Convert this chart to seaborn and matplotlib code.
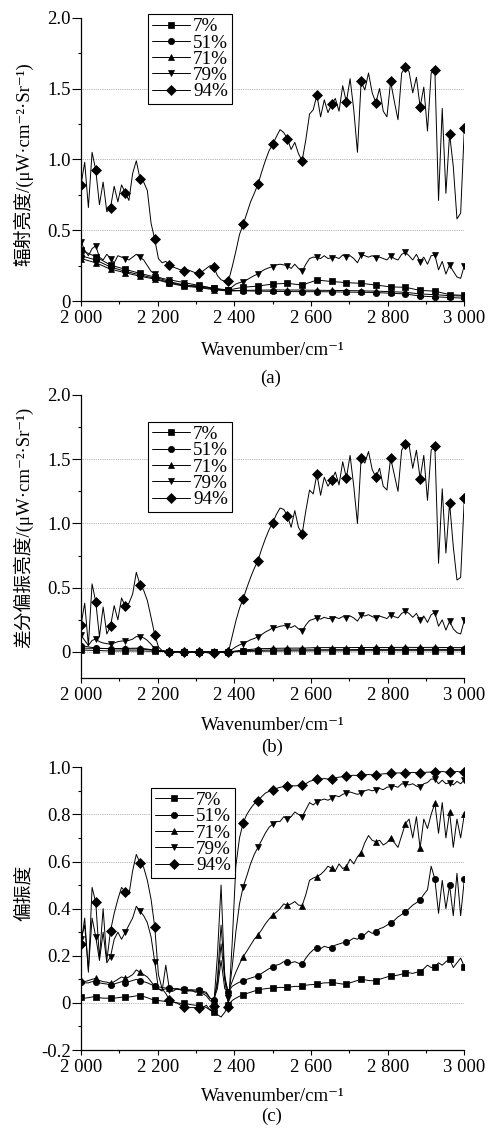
import numpy as np
import seaborn as sns
import matplotlib
matplotlib.use('Agg')
import matplotlib.pyplot as plt
from matplotlib.ticker import MultipleLocator, FixedLocator

# wavenumber grids: fine grid for noisy curves, marker grid for smooth ones
wn_fine = np.linspace(2000, 3000, 105)
wn_mark = np.linspace(2000, 3000, 27)

labels = ['7%', '51%', '71%', '79%', '94%']

# ---- (a) radiance ----
a7 = [0.36, 0.313, 0.254, 0.224, 0.195, 0.17, 0.137, 0.113, 0.106, 0.09, 0.078, 0.097, 0.106,
      0.12, 0.125, 0.113, 0.148, 0.138, 0.13, 0.125, 0.113, 0.10, 0.097, 0.075, 0.07, 0.045, 0.04]
a51 = [0.32, 0.29, 0.24, 0.21, 0.185, 0.16, 0.13, 0.11, 0.10, 0.085, 0.075, 0.072, 0.07,
       0.068, 0.067, 0.066, 0.066, 0.065, 0.063, 0.062, 0.06, 0.055, 0.05, 0.035, 0.03, 0.025, 0.02]
a71 = [0.30, 0.27, 0.225, 0.20, 0.175, 0.155, 0.125, 0.105, 0.095, 0.08, 0.07, 0.075, 0.077,
       0.078, 0.078, 0.077, 0.076, 0.075, 0.074, 0.072, 0.07, 0.066, 0.062, 0.05, 0.045, 0.038, 0.035]
a79 = [0.42, 0.36, 0.32, 0.37, 0.39, 0.31, 0.29, 0.33, 0.30, 0.27,
       0.32, 0.31, 0.30, 0.29, 0.31, 0.33, 0.31, 0.29, 0.25, 0.21,
       0.19, 0.17, 0.16, 0.155, 0.15, 0.145, 0.14, 0.135, 0.13, 0.125,
       0.12, 0.115, 0.11, 0.105, 0.10, 0.095, 0.09, 0.085, 0.08, 0.08,
       0.08, 0.10, 0.12, 0.13, 0.137, 0.15, 0.165, 0.18, 0.19, 0.21,
       0.225, 0.235, 0.243, 0.255, 0.26, 0.255, 0.25, 0.23, 0.26, 0.23,
       0.21, 0.26, 0.30, 0.31, 0.308, 0.30, 0.32, 0.30, 0.306, 0.31,
       0.30, 0.325, 0.308, 0.32, 0.30, 0.27, 0.325, 0.32, 0.31, 0.32,
       0.306, 0.31, 0.30, 0.29, 0.32, 0.30, 0.29, 0.33, 0.343, 0.32,
       0.29, 0.33, 0.278, 0.31, 0.26, 0.32, 0.325, 0.22, 0.28, 0.19,
       0.254, 0.21, 0.17, 0.16, 0.25]
a94 = [0.82, 0.98, 0.66, 1.05, 0.925, 0.68, 0.84, 0.63, 0.66, 0.81,
       0.70, 0.82, 0.765, 0.71, 0.90, 0.99, 0.865, 0.84, 0.78, 0.55,
       0.435, 0.30, 0.27, 0.28, 0.254, 0.24, 0.23, 0.22, 0.212, 0.22,
       0.21, 0.20, 0.20, 0.21, 0.23, 0.25, 0.242, 0.18, 0.15, 0.14,
       0.141, 0.24, 0.35, 0.47, 0.541, 0.62, 0.70, 0.76, 0.824, 0.91,
       0.99, 1.06, 1.106, 1.16, 1.21, 1.19, 1.144, 1.07, 1.12, 1.04,
       0.99, 1.14, 1.32, 1.35, 1.455, 1.30, 1.42, 1.33, 1.39, 1.43,
       1.34, 1.52, 1.405, 1.57, 1.35, 1.05, 1.55, 1.49, 1.61, 1.47,
       1.40, 1.50, 1.34, 1.30, 1.55, 1.41, 1.28, 1.61, 1.65, 1.62,
       1.47, 1.58, 1.37, 1.51, 1.20, 1.61, 1.63, 0.71, 1.36, 0.76,
       1.18, 0.95, 0.58, 0.62, 1.22]

# ---- (b) differential polarization radiance ----
b7 = [0.015, 0.012, 0.008, 0.008, 0.008, 0.005, 0.002, 0.0, 0.0, 0.0, 0.0, 0.004, 0.006,
      0.007, 0.008, 0.008, 0.009, 0.009, 0.009, 0.01, 0.01, 0.01, 0.01, 0.01, 0.01, 0.01, 0.01]
b51 = [0.05, 0.03, 0.025, 0.022, 0.024, 0.012, 0.003, 0.0, 0.0, 0.0, 0.0, 0.01, 0.013,
       0.015, 0.016, 0.016, 0.017, 0.018, 0.018, 0.019, 0.02, 0.02, 0.02, 0.02, 0.02, 0.02, 0.02]
b71 = [0.03, 0.028, 0.026, 0.028, 0.03, 0.015, 0.004, 0.0, 0.0, 0.0, 0.0, 0.015, 0.025,
       0.028, 0.03, 0.03, 0.034, 0.034, 0.034, 0.035, 0.035, 0.035, 0.036, 0.035, 0.036, 0.034, 0.034]
b79 = [0.13, 0.09, 0.05, 0.09, 0.10, 0.08, 0.07, 0.065, 0.06, 0.07,
       0.08, 0.085, 0.086, 0.09, 0.10, 0.12, 0.117, 0.11, 0.09, 0.06,
       0.026, 0.01, 0.005, 0.0, 0.0, 0.0, 0.0, 0.0, 0.0, 0.0,
       0.0, 0.0, 0.0, 0.0, 0.0, 0.0, 0.0, 0.0, 0.0, 0.0,
       0.0, 0.02, 0.04, 0.055, 0.065, 0.08, 0.095, 0.105, 0.117, 0.135,
       0.155, 0.17, 0.187, 0.19, 0.20, 0.205, 0.20, 0.19, 0.205, 0.18,
       0.164, 0.21, 0.245, 0.255, 0.265, 0.255, 0.27, 0.26, 0.26, 0.27,
       0.26, 0.275, 0.268, 0.28, 0.265, 0.24, 0.286, 0.28, 0.29, 0.275,
       0.265, 0.28, 0.27, 0.26, 0.29, 0.275, 0.265, 0.30, 0.317, 0.30,
       0.27, 0.30, 0.247, 0.28, 0.23, 0.29, 0.306, 0.20, 0.25, 0.17,
       0.239, 0.18, 0.15, 0.14, 0.247]
b94 = [0.21, 0.38, 0.05, 0.53, 0.39, 0.12, 0.35, 0.14, 0.20, 0.36,
       0.25, 0.42, 0.356, 0.38, 0.45, 0.62, 0.525, 0.48, 0.40, 0.27,
       0.135, 0.04, 0.01, 0.005, 0.0, 0.0, 0.0, 0.0, 0.0, 0.0,
       0.0, 0.0, 0.0, 0.0, -0.005, -0.01, -0.01, -0.005, 0.0, 0.0,
       0.0, 0.12, 0.24, 0.34, 0.415, 0.50, 0.58, 0.65, 0.71, 0.80,
       0.88, 0.95, 1.005, 1.07, 1.12, 1.11, 1.06, 0.97, 1.10, 0.97,
       0.92, 1.10, 1.26, 1.23, 1.385, 1.22, 1.36, 1.29, 1.34, 1.40,
       1.30, 1.48, 1.355, 1.53, 1.29, 1.00, 1.51, 1.47, 1.56, 1.42,
       1.36, 1.43, 1.29, 1.26, 1.51, 1.38, 1.25, 1.57, 1.62, 1.61,
       1.43, 1.57, 1.35, 1.53, 1.18, 1.57, 1.605, 0.69, 1.27, 0.77,
       1.16, 0.82, 0.56, 0.58, 1.20]

# ---- (c) degree of polarization ----
c7 = [0.024, 0.02, 0.022, 0.025, 0.026, 0.022, 0.02, 0.02, 0.019, 0.02,
      0.022, 0.024, 0.024, 0.025, 0.027, 0.03, 0.03, 0.027, 0.022, 0.016,
      0.012, 0.01, 0.008, 0.006, 0.005, 0.003, 0.0, -0.002, -0.002, -0.005,
      -0.008, -0.01, -0.01, -0.015, -0.02, -0.03, -0.04, -0.05, -0.06, -0.04,
      -0.01, 0.01, 0.02, 0.028, 0.034, 0.04, 0.045, 0.05, 0.055, 0.058,
      0.06, 0.062, 0.062, 0.064, 0.066, 0.065, 0.066, 0.068, 0.07, 0.07,
      0.072, 0.075, 0.077, 0.078, 0.08, 0.082, 0.085, 0.085, 0.087, 0.085,
      0.082, 0.08, 0.08, 0.085, 0.09, 0.095, 0.10, 0.098, 0.095, 0.094,
      0.094, 0.10, 0.105, 0.11, 0.114, 0.115, 0.118, 0.122, 0.125, 0.128,
      0.125, 0.13, 0.13, 0.145, 0.16, 0.15, 0.154, 0.17, 0.16, 0.175,
      0.186, 0.15, 0.17, 0.19, 0.154]
c51 = [0.09, 0.085, 0.085, 0.09, 0.09, 0.085, 0.082, 0.08, 0.076, 0.08,
       0.085, 0.09, 0.086, 0.09, 0.095, 0.10, 0.094, 0.09, 0.085, 0.078,
       0.072, 0.068, 0.065, 0.063, 0.062, 0.06, 0.06, 0.058, 0.058, 0.056,
       0.055, 0.055, 0.055, 0.05, 0.045, 0.02, 0.012, 0.06, 0.18, 0.06,
       0.048, 0.07, 0.08, 0.088, 0.094, 0.10, 0.105, 0.11, 0.114, 0.125,
       0.135, 0.145, 0.151, 0.16, 0.165, 0.175, 0.172, 0.17, 0.175, 0.168,
       0.165, 0.19, 0.21, 0.225, 0.232, 0.23, 0.24, 0.235, 0.234, 0.245,
       0.25, 0.255, 0.257, 0.265, 0.275, 0.27, 0.284, 0.29, 0.305, 0.295,
       0.302, 0.315, 0.32, 0.33, 0.338, 0.35, 0.365, 0.375, 0.387, 0.40,
       0.415, 0.425, 0.437, 0.46, 0.48, 0.58, 0.526, 0.38, 0.52, 0.40,
       0.50, 0.37, 0.55, 0.37, 0.524]
c71 = [0.097, 0.09, 0.095, 0.10, 0.104, 0.095, 0.09, 0.088, 0.083, 0.09,
       0.10, 0.11, 0.104, 0.11, 0.12, 0.14, 0.13, 0.12, 0.11, 0.09,
       0.07, 0.06, 0.055, 0.06, 0.062, 0.06, 0.058, 0.057, 0.055, 0.052,
       0.05, 0.05, 0.048, 0.045, 0.04, 0.02, 0.012, 0.08, 0.25, 0.10,
       0.048, 0.09, 0.13, 0.165, 0.196, 0.22, 0.245, 0.27, 0.288, 0.31,
       0.335, 0.355, 0.373, 0.385, 0.40, 0.42, 0.415, 0.42, 0.43, 0.415,
       0.413, 0.46, 0.52, 0.53, 0.536, 0.545, 0.56, 0.58, 0.571, 0.56,
       0.59, 0.57, 0.578, 0.61, 0.59, 0.62, 0.638, 0.68, 0.71, 0.69,
       0.684, 0.69, 0.67, 0.68, 0.70, 0.68, 0.66, 0.71, 0.76, 0.78,
       0.70, 0.79, 0.656, 0.78, 0.74, 0.80, 0.847, 0.72, 0.85, 0.70,
       0.811, 0.66, 0.78, 0.70, 0.80]
c79 = [0.27, 0.33, 0.14, 0.36, 0.281, 0.18, 0.30, 0.17, 0.196, 0.27,
       0.30, 0.27, 0.30, 0.33, 0.36, 0.41, 0.39, 0.37, 0.34, 0.28,
       0.175, 0.06, 0.05, 0.16, 0.055, 0.05, 0.06, 0.055, 0.055, 0.05,
       0.055, 0.045, 0.05, 0.04, 0.03, 0.01, 0.0, 0.10, 0.33, 0.12,
       0.02, 0.15, 0.30, 0.42, 0.493, 0.54, 0.59, 0.63, 0.66, 0.69,
       0.72, 0.745, 0.758, 0.77, 0.77, 0.79, 0.78, 0.79, 0.81, 0.80,
       0.79, 0.82, 0.85, 0.84, 0.854, 0.86, 0.865, 0.86, 0.868, 0.88,
       0.875, 0.885, 0.89, 0.895, 0.89, 0.885, 0.89, 0.90, 0.905, 0.90,
       0.904, 0.91, 0.905, 0.915, 0.918, 0.92, 0.915, 0.93, 0.928, 0.925,
       0.93, 0.92, 0.915, 0.93, 0.935, 0.95, 0.949, 0.93, 0.945, 0.93,
       0.935, 0.925, 0.94, 0.93, 0.946]
c94 = [0.25, 0.36, 0.13, 0.49, 0.427, 0.19, 0.40, 0.18, 0.306, 0.38,
       0.44, 0.49, 0.472, 0.46, 0.56, 0.63, 0.595, 0.575, 0.52, 0.44,
       0.323, 0.12, 0.06, 0.04, 0.012, 0.005, 0.0, -0.01, -0.016, -0.02,
       -0.02, -0.02, -0.023, -0.02, -0.01, -0.03, -0.013, 0.20, 0.50, 0.10,
       -0.016, 0.25, 0.58, 0.70, 0.765, 0.80, 0.825, 0.845, 0.858, 0.875,
       0.89, 0.898, 0.904, 0.91, 0.915, 0.918, 0.92, 0.922, 0.921, 0.922,
       0.925, 0.93, 0.94, 0.945, 0.95, 0.95, 0.952, 0.95, 0.951, 0.955,
       0.958, 0.96, 0.964, 0.965, 0.966, 0.965, 0.968, 0.968, 0.969, 0.968,
       0.968, 0.97, 0.972, 0.973, 0.975, 0.975, 0.976, 0.976, 0.977, 0.977,
       0.978, 0.977, 0.977, 0.978, 0.979, 0.98, 0.981, 0.98, 0.982, 0.98,
       0.981, 0.98, 0.982, 0.98, 0.981]

x_ticks = [2000, 2200, 2400, 2600, 2800, 3000]
x_ticklabels = ['2 000', '2 200', '2 400', '2 600', '2 800', '3 000']

markers = {'7%': 's', '51%': 'o', '71%': '^', '79%': 'v', '94%': 'D'}
msizes = {'7%': 4.2, '51%': 4.5, '71%': 5.0, '79%': 5.0, '94%': 4.8}

sns.set_theme(style='ticks')
plt.rcParams['font.family'] = ['Liberation Serif', 'Noto Sans CJK SC', 'DejaVu Sans']
plt.rcParams.update({'axes.edgecolor': 'black', 'text.color': 'black',
                     'xtick.color': 'black', 'ytick.color': 'black',
                     'axes.labelcolor': 'black', 'axes.linewidth': 0.9})

FS = 13.5


def draw_panel(ax, series, ylim, yticks, ytlabels, yminor, grid_vals,
               ylabel, ylab_y, xlab_y, leg_xy):
    for lab, y in zip(labels, series):
        if len(y) == len(wn_fine):
            x, step = wn_fine, 4
        else:
            x, step = wn_mark, 1
        sns.lineplot(x=x, y=y, ax=ax, color='black', lw=0.7, label=lab,
                     marker=markers[lab], markersize=msizes[lab], markevery=step,
                     markerfacecolor='black', markeredgecolor='black',
                     markeredgewidth=0.5, estimator=None, sort=False)
    # dotted horizontal guide lines
    for g in grid_vals:
        ax.axhline(g, color='#9a9a9a', lw=0.6, ls=(0, (1, 1.2)), zorder=0)
    ax.set_xlim(2000, 3000)
    ax.set_ylim(*ylim)
    ax.set_xticks(x_ticks)
    ax.set_xticklabels(x_ticklabels)
    ax.xaxis.set_minor_locator(MultipleLocator(100))
    ax.set_yticks(yticks)
    ax.set_yticklabels(ytlabels)
    ax.yaxis.set_minor_locator(FixedLocator(yminor))
    ax.tick_params(axis='y', which='major', direction='out', length=6.5, width=0.8,
                   labelsize=FS, pad=1)
    ax.tick_params(axis='y', which='minor', direction='out', length=2.5, width=0.8)
    ax.tick_params(axis='x', which='major', direction='out', length=3.5, width=0.8,
                   labelsize=FS, pad=3)
    ax.tick_params(axis='x', which='minor', direction='out', length=2.5, width=0.8)
    sns.despine(ax=ax)
    ax.set_ylabel(ylabel, fontsize=FS)
    ax.yaxis.set_label_coords(-0.125, ylab_y)
    ax.set_xlabel('Wavenumber/cm⁻¹', fontsize=FS)
    ax.xaxis.set_label_coords(0.5, xlab_y)
    leg = ax.legend(loc='upper left', bbox_to_anchor=leg_xy, borderaxespad=0,
                    frameon=True, fancybox=False, edgecolor='black', framealpha=1,
                    fontsize=13.8, labelspacing=-0.06, handlelength=2.0,
                    handletextpad=0.15, borderpad=0.2)
    leg.get_frame().set_linewidth(0.8)


fig = plt.figure(figsize=(4.91, 11.36), dpi=100)
ax_a = fig.add_axes([0.165, 0.735, 0.7807, 0.2494])
ax_b = fig.add_axes([0.165, 0.4029, 0.7807, 0.2494])
ax_c = fig.add_axes([0.165, 0.0757, 0.7807, 0.2489])

ab_ticks = [0, 0.5, 1.0, 1.5, 2.0]
ab_labels = ['0', '0.5', '1.0', '1.5', '2.0']
ab_minor = [0.25, 0.75, 1.25, 1.75]

draw_panel(ax_a, [a7, a51, a71, a79, a94], (0, 2.0), ab_ticks, ab_labels, ab_minor,
           [0.5, 1.0, 1.5], '辐射亮度/(μW·cm⁻²·Sr⁻¹)', 0.484, -0.145, (0.175, 1.013))
draw_panel(ax_b, [b7, b51, b71, b79, b94], (-0.205, 2.0), ab_ticks, ab_labels, ab_minor,
           [0, 0.5, 1.0, 1.5], '差分偏振亮度/(μW·cm⁻²·Sr⁻¹)', 0.532, -0.135, (0.175, 0.905))
draw_panel(ax_c, [c7, c51, c71, c79, c94], (-0.2, 1.0),
           [-0.2, 0, 0.2, 0.4, 0.6, 0.8, 1.0],
           ['-0.2', '0', '0.2', '0.4', '0.6', '0.8', '1.0'],
           [-0.1, 0.1, 0.3, 0.5, 0.7, 0.9],
           [0, 0.2, 0.4, 0.6, 0.8], '偏振度', 0.557, -0.133, (0.183, 0.927))

fig.text(271 / 491, 1 - 378 / 1136, '(a)', ha='center', va='center', fontsize=FS)
fig.text(272 / 491, 1 - 747 / 1136, '(b)', ha='center', va='center', fontsize=FS)
fig.text(272 / 491, 1 - 1116 / 1136, '(c)', ha='center', va='center', fontsize=FS)

fig.savefig('out.png', dpi=100)
